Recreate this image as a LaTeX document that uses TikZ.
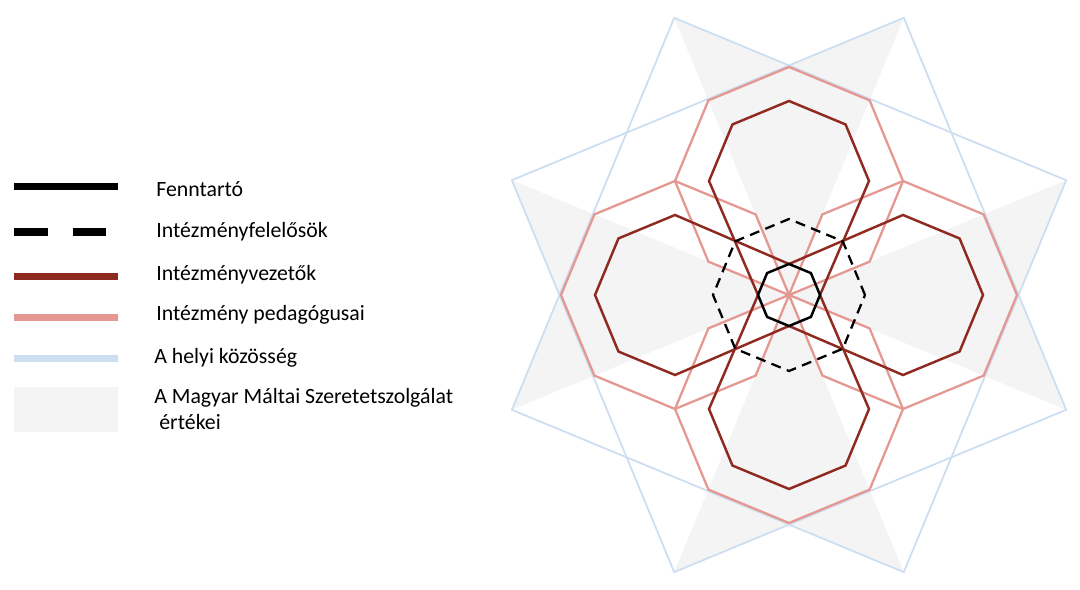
\documentclass[tikz,border=0pt]{standalone}
\usepackage{fontspec}
\setmainfont{Carlito}
\usepackage{xcolor}
\usepackage{tikz}

\definecolor{vezetored}{RGB}{143,42,33}
\definecolor{pedagogpink}{RGB}{229,152,145}
\definecolor{kozossegblue}{RGB}{204,222,240}
\definecolor{ertekgray}{RGB}{244,244,244}

\begin{document}
\begin{tikzpicture}
    % Define block styles
    \tikzstyle{legendtext} = [anchor=base west, inner sep=0pt, font=\fontsize{12.4}{14.7}\selectfont]
    \tikzstyle{fenntarto} = [line width=1.4pt, black]
    \tikzstyle{felelos} = [line width=1.3pt, black, dash pattern=on 0.2cm off 0.13cm]
    \tikzstyle{vezeto} = [line width=1.4pt, vezetored]
    \tikzstyle{pedagogus} = [line width=1.3pt, pedagogpink]
    \tikzstyle{kozosseg} = [line width=1pt, kozossegblue]
    \tikzstyle{ertek} = [fill=ertekgray]
    \tikzstyle{bar} = [line width=4pt]

    \useasboundingbox (0,0) rectangle (21.6,11.78);

    % Draw legend lines
    \draw [fenntarto, bar] (0.28,8.05) -- (2.36,8.05);
    \draw [felelos, bar, dash pattern=on 0.67cm off 0.5cm] (0.28,7.14) -- (2.36,7.14);
    \draw [vezeto, bar] (0.28,6.25) -- (2.36,6.25);
    \draw [pedagogus, bar] (0.28,5.43) -- (2.36,5.43);
    \draw [kozosseg, bar] (0.28,4.61) -- (2.36,4.61);
    \fill [ertek] (0.28,3.13) rectangle (2.36,4.03);

    % Draw nodes
    \node (fenntarto) [legendtext] at (3.12,7.85) {Fenntartó};
    \node (felelos) [legendtext] at (3.12,7.03) {Intézményfelelősök};
    \node (vezeto) [legendtext] at (3.12,6.17) {Intézményvezetők};
    \node (pedagogus) [legendtext] at (3.12,5.36) {Intézmény pedagógusai};
    \node (kozosseg) [legendtext] at (3.08,4.51) {A helyi közösség};
    \node (ertekek) [legendtext, align=left] at (3.08,3.19) {A Magyar Máltai Szeretetszolgálat\\\hspace{0.23em}értékei};

    % Draw figure
    \begin{scope}[shift={(15.78,5.88)}]
      \foreach \a in {0,90,180,270}
        \fill [ertek, rotate=\a] (0,0) -- (67.5:6) -- (90:4.59) -- (112.5:6) -- cycle;
      \foreach \a in {22.5,67.5}
        \draw [kozosseg, rotate=\a] (0:6) -- (90:6) -- (180:6) -- (270:6) -- cycle;
      \foreach \a in {0,90,180,270}
        \draw [pedagogus, shift={(\a:2.28)}] (0:2.28) -- (45:2.28) -- (90:2.28) -- (135:2.28)
          -- (180:2.28) -- (225:2.28) -- (270:2.28) -- (315:2.28) -- cycle;
      \foreach \a in {0,90}
        \draw [vezeto, rotate=\a] (-2.28,1.6) -- (-3.411,1.131) -- (-3.88,0) -- (-3.411,-1.131)
          -- (-2.28,-1.6) -- (0,-0.62) -- (2.28,-1.6) -- (3.411,-1.131) -- (3.88,0)
          -- (3.411,1.131) -- (2.28,1.6) -- (0,0.62) -- cycle;
      \draw [felelos] (0:1.52) -- (45:1.52) -- (90:1.52) -- (135:1.52) -- (180:1.52)
        -- (225:1.52) -- (270:1.52) -- (315:1.52) -- cycle;
      \draw [fenntarto] (0:0.62) -- (45:0.62) -- (90:0.62) -- (135:0.62) -- (180:0.62)
        -- (225:0.62) -- (270:0.62) -- (315:0.62) -- cycle;
    \end{scope}

\end{tikzpicture}
\end{document}
